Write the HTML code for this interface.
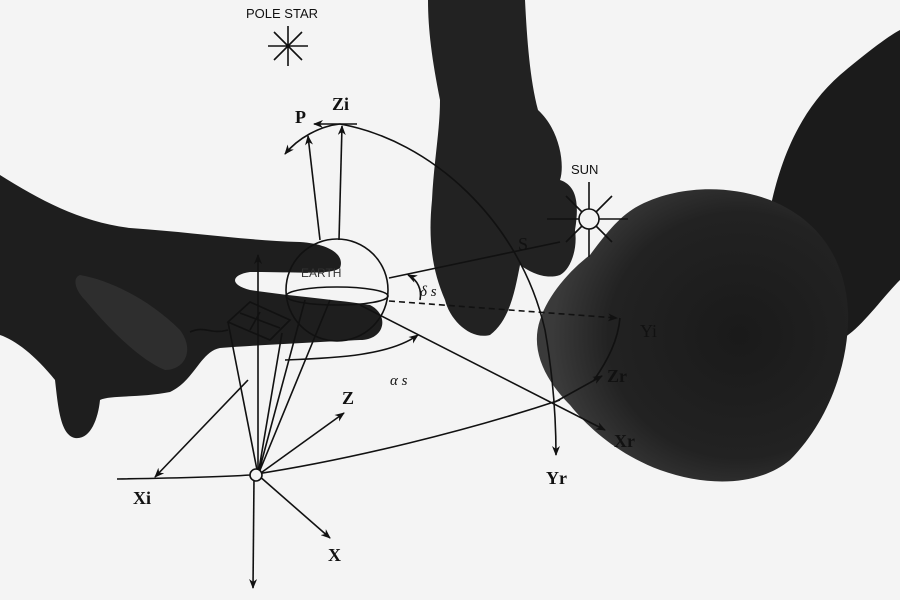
<!DOCTYPE html>
<html><head><style>html,body{margin:0;padding:0;background:#f3f3f3;}svg{display:block}</style></head><body>
<svg width="900" height="600" viewBox="0 0 900 600" xmlns="http://www.w3.org/2000/svg" font-family="Liberation Serif, serif">
<defs><marker id="a" markerWidth="10" markerHeight="8" refX="9" refY="4" orient="auto" markerUnits="userSpaceOnUse"><path d="M0,0 L10,4 L0,8 L3,4z" fill="#111"/></marker>
<radialGradient id="g" cx="0.65" cy="0.5" r="0.6"><stop offset="0" stop-color="#1a1a1a"/><stop offset="0.7" stop-color="#222"/><stop offset="1" stop-color="#3a3a3a"/></radialGradient>
</defs>
<rect width="900" height="600" fill="#f4f4f4"/>
<path d="M0,175 C40,200 80,222 130,228 C190,232 240,240 300,242 C330,244 345,255 340,268 C330,275 300,272 250,272 C230,275 230,285 250,290 C290,296 340,300 370,305 C390,315 385,340 360,340 C320,342 260,345 220,348 C200,352 195,380 170,392 C140,398 110,395 100,400 C98,420 90,440 75,438 C60,435 58,405 55,380 C35,355 15,340 0,335 Z" fill="#1e1e1e"/>
<path d="M80,275 C110,280 150,300 180,330 C195,350 185,370 165,370 C140,360 110,330 85,300 C75,290 72,278 80,275Z" fill="#2e2e2e"/>
<path d="M428,0 L525,0 C527,40 530,80 538,110 C560,130 565,165 560,180 C575,185 580,200 575,230 C578,250 570,270 560,275 C545,280 530,272 520,265 C515,290 510,320 490,335 C470,340 450,320 445,300 C432,270 428,240 432,200 C434,160 440,130 440,100 C432,60 428,30 428,0Z" fill="#222"/>
<path d="M770,210 C780,160 800,110 840,75 C870,50 890,35 900,30 L900,280 C880,300 860,330 840,340 L780,300Z" fill="#1b1b1b"/>
<path d="M640,205 C680,185 730,185 770,200 C820,220 845,260 848,310 C850,360 830,420 790,460 C760,485 710,488 660,470 C620,455 590,430 570,405 C545,380 530,350 540,320 C548,295 570,270 590,255 C605,235 620,215 640,205Z" fill="url(#g)"/>
<g stroke="#111" stroke-width="1.6" fill="none">
<path d="M288,26 V66 M268,46 H308 M274,32 L302,60 M302,32 L274,60"/>
<circle cx="589" cy="219" r="10" fill="#f4f4f4"/>
<path d="M589,182 V209 M589,229 V257 M547,219 H579 M599,219 H628 M566,196 L582,212 M596,226 L612,242 M612,196 L596,212 M582,226 L566,242"/>
<circle cx="337" cy="290" r="51"/>
<ellipse cx="337" cy="296" rx="51" ry="9"/>
<path d="M320,240 L308,136" marker-end="url(#a)"/>
<path d="M339,240 L342,126" marker-end="url(#a)"/>
<path d="M357,124 H314" marker-end="url(#a)"/>
<path d="M340,124 C320,126 298,138 285,154" marker-end="url(#a)"/>
<path d="M340,124 C430,140 520,220 545,330 C552,370 556,410 556,455" marker-end="url(#a)"/>
<path d="M389,278 L560,242"/>
<path d="M389,301 L617,318" stroke-dasharray="6,4" marker-end="url(#a)"/>
<path d="M620,318 C618,340 608,360 594,380"/>
<path d="M360,305 L605,430" marker-end="url(#a)"/>
<path d="M555,402 L602,376" marker-end="url(#a)"/>
<path d="M420,300 C422,290 418,280 408,275" marker-end="url(#a)"/>
<path d="M285,360 C340,358 390,355 418,335" marker-end="url(#a)"/>
<path d="M258,475 L258,255" marker-end="url(#a)"/>
<path d="M248,380 L155,477" marker-end="url(#a)"/>
<path d="M258,475 L344,413" marker-end="url(#a)"/>
<path d="M258,475 L330,538" marker-end="url(#a)"/>
<path d="M254,478 L253,588" marker-end="url(#a)"/>
<path d="M117,479 C180,478 220,477 250,475 C350,460 470,430 560,400"/>
<path d="M258,475 L228,322 M258,475 L282,333 M258,475 L330,300 M258,475 L305,300"/>
<path d="M228,322 L250,302 L290,320 L270,340 Z M228,322 L270,340 M240,313 L280,328 M260,312 L250,330"/>
<path d="M190,332 C205,325 210,335 228,330"/>
</g>
<circle cx="256" cy="475" r="6" fill="#f4f4f4" stroke="#111" stroke-width="1.6"/>
<g fill="#111" font-family="Liberation Sans, sans-serif" font-size="13">
<text x="246" y="18">POLE STAR</text>
<text x="571" y="174">SUN</text>
<text x="301" y="277" font-size="12" fill="#333">EARTH</text>
</g>
<g fill="#111" font-weight="bold" font-size="18">
<text x="295" y="123">P</text>
<text x="332" y="110">Zi</text>
<text x="133" y="504">Xi</text>
<text x="342" y="404">Z</text>
<text x="328" y="561">X</text>
<text x="546" y="484">Yr</text>
<text x="614" y="447">Xr</text>
<text x="607" y="382">Zr</text>
<text x="640" y="337" font-weight="normal">Yi</text>
<text x="518" y="250" font-weight="normal">S</text>
</g>
<g fill="#111" font-size="15" font-style="italic">
<text x="420" y="296">δ s</text>
<text x="390" y="385">α s</text>
</g>
</svg>
</body></html>
